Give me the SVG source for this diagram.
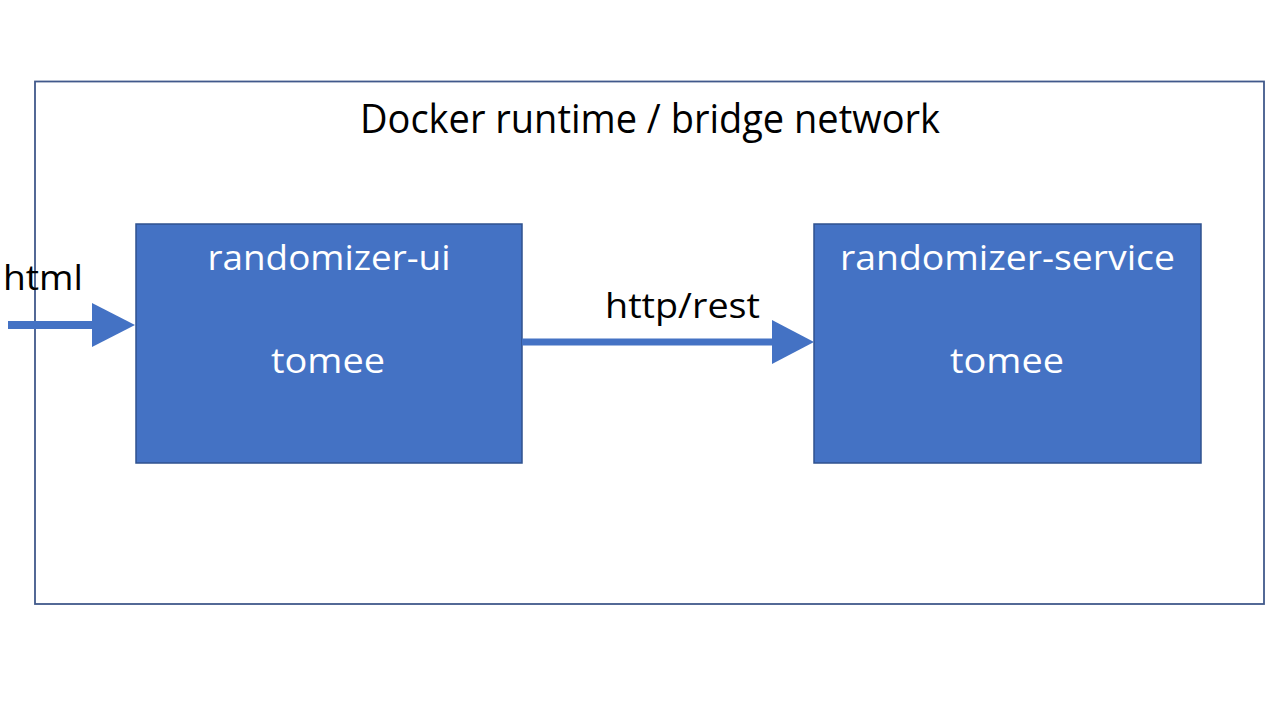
<svg xmlns="http://www.w3.org/2000/svg" width="1280" height="720" viewBox="0 0 1280 720">
<style>
.t{font-family:"Open Sans","Liberation Sans",sans-serif;}
.dark{fill:#000;}
.white{fill:#fff;}
.box{fill:#4472C4;stroke:#2F528F;stroke-width:1.5;}
.conn{fill:#4472C4;stroke:none;}
</style>
<rect width="1280" height="720" fill="#fff"/>
<g id="docker-network">
<rect x="35" y="81.5" width="1229" height="522.5" fill="none" stroke="#41598B" stroke-width="1.8"/>
<text class="t dark" x="650" y="133" font-size="40" text-anchor="middle" textLength="580" lengthAdjust="spacingAndGlyphs">Docker runtime / bridge network</text>
</g>
<g id="randomizer-ui">
<rect class="box" x="136" y="224" width="386" height="239"/>
<text class="t white" x="329" y="270" font-size="34" text-anchor="middle" textLength="243" lengthAdjust="spacingAndGlyphs">randomizer-ui</text>
<text class="t white" x="328" y="373" font-size="34" text-anchor="middle" textLength="114" lengthAdjust="spacingAndGlyphs">tomee</text>
</g>
<g id="randomizer-service">
<rect class="box" x="814" y="224" width="387" height="239"/>
<text class="t white" x="1007.5" y="270" font-size="34" text-anchor="middle" textLength="335" lengthAdjust="spacingAndGlyphs">randomizer-service</text>
<text class="t white" x="1007" y="373" font-size="34" text-anchor="middle" textLength="114" lengthAdjust="spacingAndGlyphs">tomee</text>
</g>
<g id="connectors">
<rect class="conn" x="8" y="321" width="86" height="8"/>
<polygon class="conn" points="92,303 135,325 92,347"/>
<rect class="conn" x="522" y="338.5" width="252" height="7"/>
<polygon class="conn" points="772,320 814,342 772,364"/>
<text class="t dark" x="43" y="290" font-size="34" text-anchor="middle" textLength="80" lengthAdjust="spacingAndGlyphs">html</text>
<text class="t dark" x="682.5" y="318" font-size="34" text-anchor="middle" textLength="155" lengthAdjust="spacingAndGlyphs">http/rest</text>
</g>
</svg>
